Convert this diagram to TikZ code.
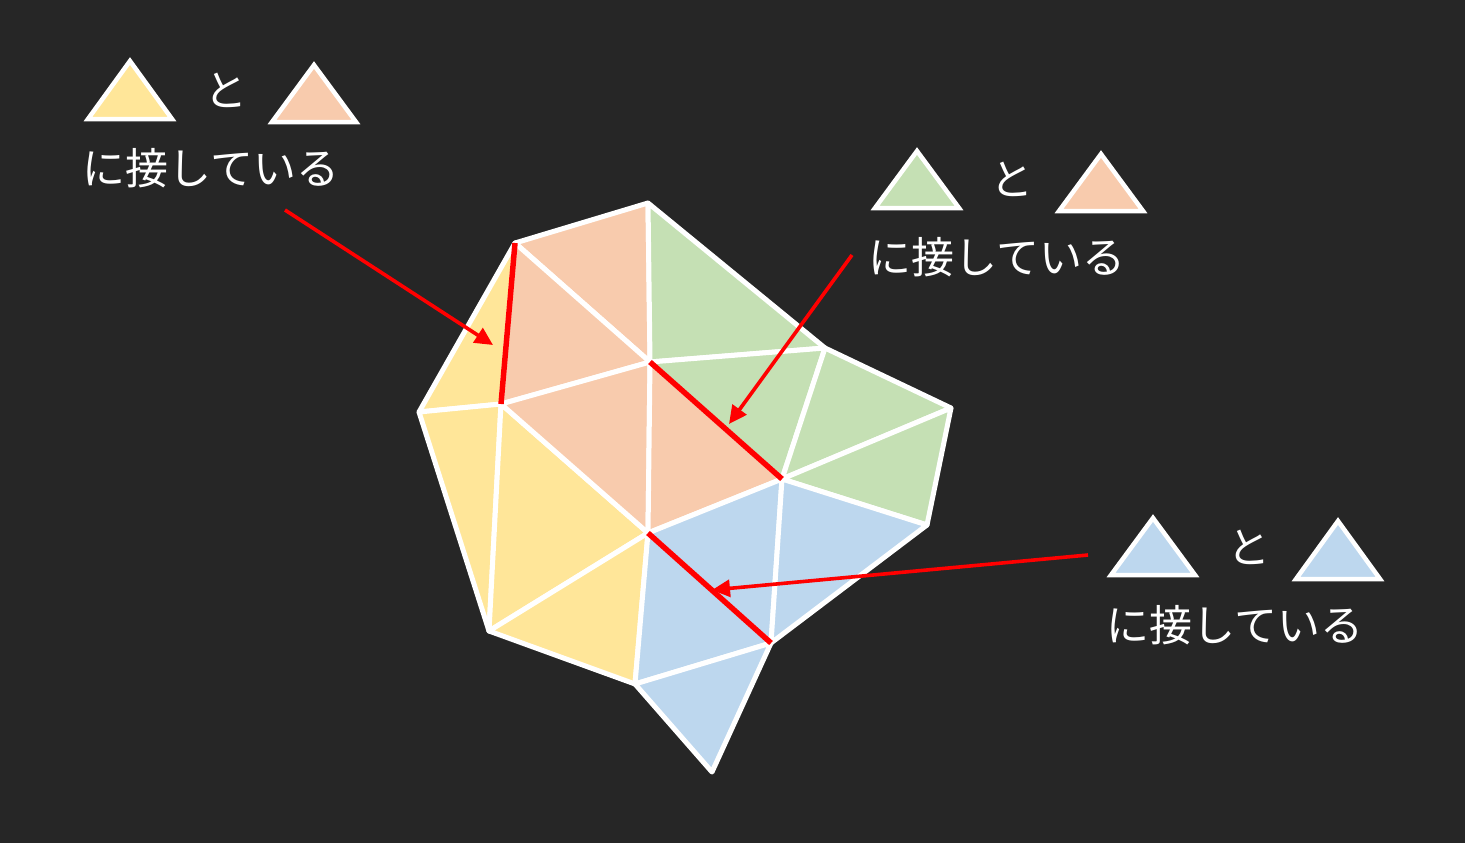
\documentclass[tikz,border=0pt]{standalone}
\usepackage{fontspec}
\newfontfamily\jp{Noto Sans CJK JP}
\usetikzlibrary{arrows.meta}
\definecolor{bg}{HTML}{262626}
\definecolor{cy}{HTML}{FFE699}
\definecolor{co}{HTML}{F8CBAD}
\definecolor{cg}{HTML}{C5E0B4}
\definecolor{cb}{HTML}{BDD7EE}
\definecolor{rd}{HTML}{FF0000}
\tikzset{
  tri/.style={draw=white, line width=5pt, line join=round},
  icon/.style={draw=white, line width=4.5pt, line join=miter},
  redline/.style={draw=rd, line width=5.5pt},
  pointer/.style={draw=rd, line width=3.6pt, -{Triangle[length=18pt,width=17pt]}},
  txt/.style={text=white, font=\jp\fontsize{43}{47}\selectfont, inner sep=0pt},
}
\begin{document}
\begin{tikzpicture}[x=1pt,y=-1pt]
\fill[bg] (0,0) rectangle (1465,843);
\useasboundingbox (0,0) rectangle (1465,843);
% mesh vertices
\coordinate (A) at (515,243);
\coordinate (B) at (648,203);
\coordinate (C) at (825,348);
\coordinate (D) at (951,408);
\coordinate (E) at (927,525);
\coordinate (F) at (771,643);
\coordinate (G) at (712,772);
\coordinate (H) at (635,684);
\coordinate (I) at (489,631);
\coordinate (J) at (419,412);
\coordinate (K) at (501,404);
\coordinate (L) at (650,362);
\coordinate (M) at (782,479);
\coordinate (N) at (648,533);
% yellow
\filldraw[tri, fill=cy] (J) -- (A) -- (K) -- cycle;
\filldraw[tri, fill=cy] (J) -- (K) -- (I) -- cycle;
\filldraw[tri, fill=cy] (K) -- (N) -- (I) -- cycle;
\filldraw[tri, fill=cy] (I) -- (N) -- (H) -- cycle;
% orange
\filldraw[tri, fill=co] (A) -- (B) -- (L) -- cycle;
\filldraw[tri, fill=co] (A) -- (L) -- (K) -- cycle;
\filldraw[tri, fill=co] (K) -- (L) -- (N) -- cycle;
\filldraw[tri, fill=co] (L) -- (M) -- (N) -- cycle;
% green
\filldraw[tri, fill=cg] (B) -- (C) -- (L) -- cycle;
\filldraw[tri, fill=cg] (L) -- (C) -- (M) -- cycle;
\filldraw[tri, fill=cg] (C) -- (D) -- (M) -- cycle;
\filldraw[tri, fill=cg] (M) -- (D) -- (E) -- cycle;
% blue
\filldraw[tri, fill=cb] (N) -- (M) -- (F) -- cycle;
\filldraw[tri, fill=cb] (M) -- (E) -- (F) -- cycle;
\filldraw[tri, fill=cb] (N) -- (F) -- (H) -- cycle;
\filldraw[tri, fill=cb] (H) -- (F) -- (G) -- cycle;
% red shared edges
\draw[redline] (A) -- (K);
\draw[redline] (L) -- (M);
\draw[redline] (N) -- (F);
% labels: top-left
\filldraw[icon, fill=cy] (88,119) -- (130,61) -- (172,119) -- cycle;
\node[txt] (t1) at (226,90) {と};
\filldraw[icon, fill=co] (272,122) -- (314,65) -- (356,122) -- cycle;
\node[txt] (l1) at (211,168) {に接している};
% top-right
\filldraw[icon, fill=cg] (875,208) -- (917,151) -- (959,208) -- cycle;
\node[txt] (t2) at (1012,179) {と};
\filldraw[icon, fill=co] (1059,211) -- (1101,154) -- (1143,211) -- cycle;
\node[txt] (l2) at (997,257) {に接している};
% bottom-right
\filldraw[icon, fill=cb] (1111,575) -- (1153,518) -- (1195,575) -- cycle;
\node[txt] (t3) at (1249,547) {と};
\filldraw[icon, fill=cb] (1296,579) -- (1338,521) -- (1380,579) -- cycle;
\node[txt] (l3) at (1235,625) {に接している};
% pointers
\coordinate (s1) at (285,210);
\coordinate (e1) at (493,345);
\coordinate (s2) at (852,255);
\coordinate (e2) at (729,424);
\coordinate (s3) at (1088,555);
\coordinate (e3) at (712,590);
\draw[pointer] (s1) -- (e1);
\draw[pointer] (s2) -- (e2);
\draw[pointer] (s3) -- (e3);
\end{tikzpicture}
\end{document}
